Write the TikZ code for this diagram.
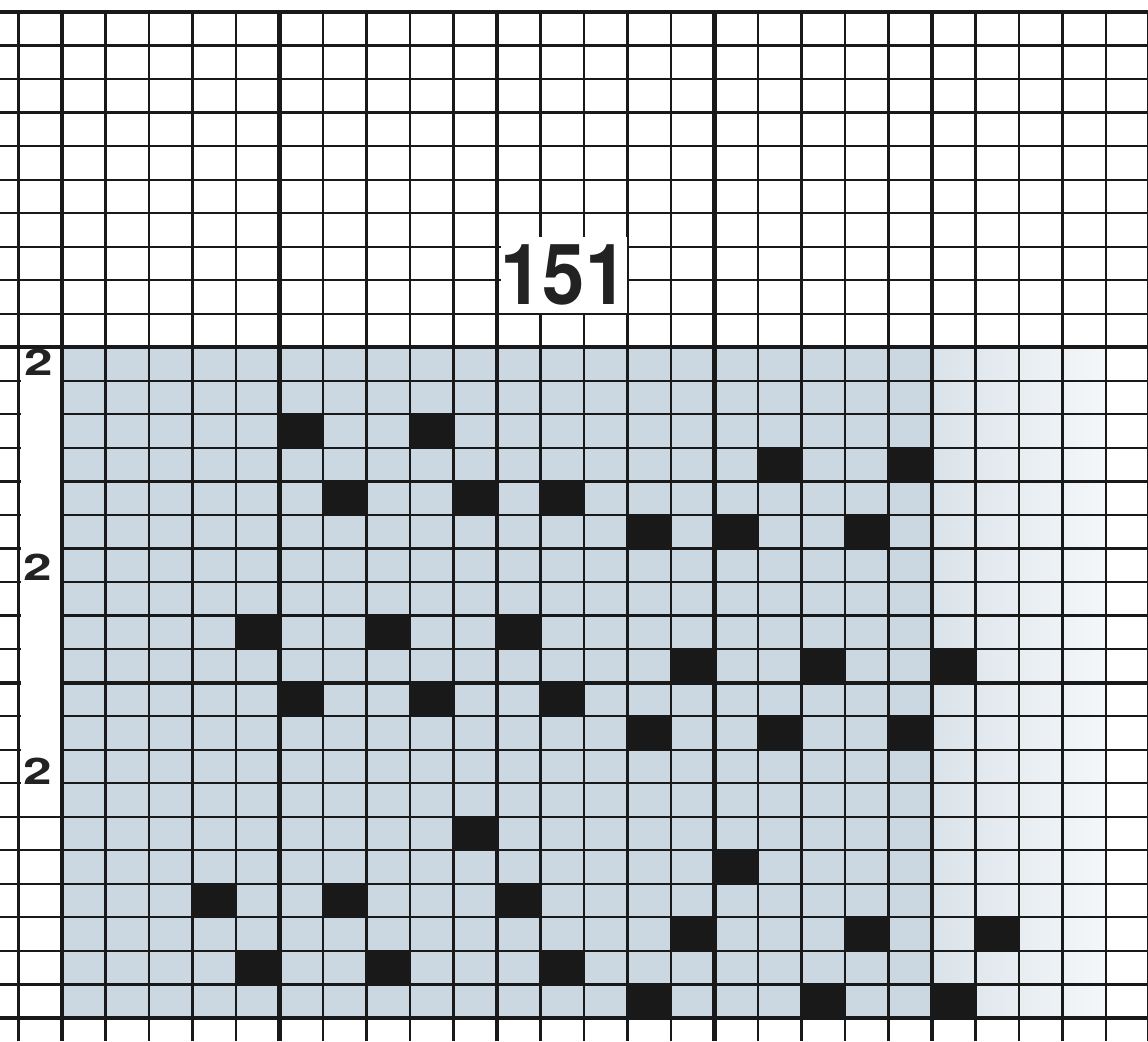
\documentclass[tikz,border=0pt]{standalone}
\usepackage{fontspec}
\setmainfont{TeX Gyre Heros}
\usepackage{tikz}
\usepackage{xcolor}
\definecolor{chartblue}{RGB}{203,215,225}
\definecolor{inkgray}{RGB}{34,34,34}

\begin{document}
\begin{tikzpicture}[x=0.025cm, y=-0.025cm,
  thinrule/.style={line width=1.6pt, black!90},
  thickrule/.style={line width=2.9pt, black!90},
  stitch/.style={fill=black!90},
  rowlabel/.style={font=\bfseries\fontsize{26}{26}\selectfont, text=inkgray, inner sep=0pt, xscale=1.4}]
\useasboundingbox (0,0) rectangle (1148,1041);
% shaded band
\fill[chartblue] (62,348) rectangle (932,1018);
\shade[left color=chartblue!70!white, right color=chartblue!20!white] (932,348) rectangle (1106,1018);
% stitches
\foreach \c/\r in {6/12,9/12,17/13,20/13,7/14,10/14,12/14,14/15,16/15,19/15,
                   5/18,8/18,11/18,15/19,18/19,21/19,6/20,9/20,12/20,14/21,17/21,20/21,
                   10/24,16/25,4/26,7/26,11/26,15/27,19/27,22/27,5/28,8/28,12/28,14/29,18/29,21/29}
  \fill[stitch] ({18.5+43.5*\c},{12+33.53*\r}) rectangle ++(43.5,33.53);
% grid
\foreach \k in {0,...,26}
  \draw[thinrule] ({18.5+43.5*\k},12) -- ({18.5+43.5*\k},1041);
\foreach \j in {0,...,30}
  \draw[thinrule] (0,{12+33.53*\j}) -- (1148,{12+33.53*\j});
\foreach \k in {1,6,11,16,21,26}
  \draw[thickrule] ({18.5+43.5*\k},12) -- ({18.5+43.5*\k},1041);
\foreach \j in {0,10,20,30}
  \draw[thickrule] (0,{12+33.53*\j}) -- (1148,{12+33.53*\j});
% label strip
\fill[white] (20.5,349.5) rectangle (59.5,801);
\node[rowlabel] (lbla) at (39,362) {2};
\node[rowlabel] (lblb) at (38,567) {2};
\node[rowlabel] (lblc) at (38,771) {2};
% chart number
\node[fill=white, inner sep=0pt, minimum width=3.17cm, minimum height=1.9cm,
      font=\bfseries\fontsize{60}{60}\selectfont, text=inkgray] (chartno) at (564,275) {\scalebox{0.9}[1]{151}};
\end{tikzpicture}
\end{document}
